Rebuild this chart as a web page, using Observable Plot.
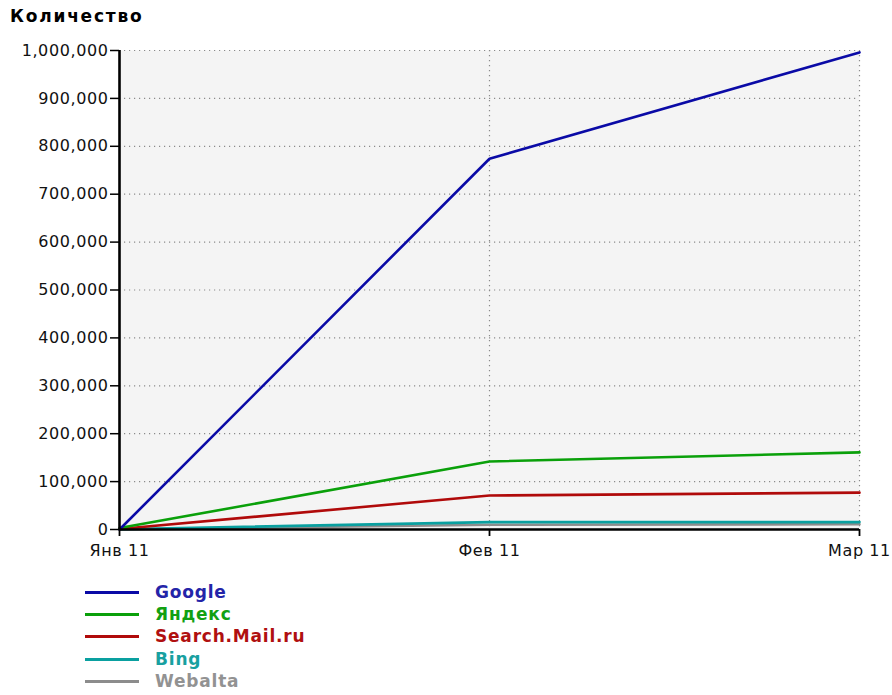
<!DOCTYPE html>
<html>
<head>
<meta charset="utf-8">
<script src="https://cdn.jsdelivr.net/npm/d3@7"></script>
<script src="https://cdn.jsdelivr.net/npm/@observablehq/plot@0.6"></script>
<style>
  body { margin: 0; background: white; font-family: "DejaVu Sans", sans-serif; }
  #wrap { position: relative; width: 892px; height: 695px; }
  #title { position: absolute; left: 10px; top: 6px; font-weight: bold; font-size: 17px; letter-spacing: 1.8px; color: #000; }
  #chart { position: absolute; left: 0; top: 32px; }
  .lg { position: absolute; left: 0; height: 22px; width: 400px; }
  .lg .ln { position: absolute; left: 85px; top: 10px; width: 54px; height: 3px; }
  .lg .tx { position: absolute; left: 155px; top: 0px; font-weight: bold; font-size: 17px; letter-spacing: 0.8px; line-height: 22px; }
</style>
</head>
<body>
<div id="wrap">
  <div id="title">Количество</div>
  <div id="chart"></div>
  <div id="legend"></div>
</div>
<script>
const months = ["Янв 11", "Фев 11", "Мар 11"];
const seriesNames = ["Google", "Яндекс", "Search.Mail.ru", "Bing", "Webalta"];
const seriesColors = ["#0a0aa6", "#0aa00a", "#b00a0a", "#0aa0a0", "#8c8c8c"];
const legendTextColors = ["#2424a8", "#12a012", "#b01010", "#18a0a0", "#929292"];
const google = [0, 774000, 996000];
const yandex = [3000, 142000, 161000];
const mail = [1000, 71000, 77000];
const bing = [500, 15500, 15500];
const webalta = [200, 9800, 11000];
const yTicks = [0, 100000, 200000, 300000, 400000, 500000, 600000, 700000, 800000, 900000, 1000000];

const allValues = [google, yandex, mail, bing, webalta];
const data = [];
// draw Webalta first so Google is on top
for (let s = allValues.length - 1; s >= 0; s--) {
  allValues[s].forEach((v, i) => data.push({series: seriesNames[s], month: i, value: v}));
}

const chart = Plot.plot({
  width: 892,
  height: 540,
  marginLeft: 119,
  marginRight: 33,
  marginTop: 18,
  marginBottom: 43,
  style: { fontFamily: "DejaVu Sans, sans-serif", fontSize: "16px", color: "#000", background: "white" },
  x: { domain: [0, months.length - 1], axis: null, label: null },
  y: { domain: [0, 1000000], axis: null, label: null },
  color: { domain: seriesNames, range: seriesColors },
  marks: [
    Plot.frame({ fill: "#f4f4f4", stroke: null }),
    Plot.gridY(yTicks.slice(1), { stroke: "#8a8a8a", strokeOpacity: 1, strokeWidth: 1.2, strokeDasharray: "1.2,3.8" }),
    Plot.gridX([1, 2], { stroke: "#8a8a8a", strokeOpacity: 1, strokeWidth: 1.2, strokeDasharray: "1.2,3.8" }),
    Plot.line(data, { x: "month", y: "value", z: "series", stroke: "series", strokeWidth: 2.6, curve: "linear" }),
    Plot.axisY(yTicks, { label: null, tickFormat: d3.format(","), tickSize: 9, tickPadding: 2, fontSize: 16, stroke: "#000", strokeWidth: 1.5, fill: "#111" }),
    Plot.axisX([0, 1, 2], { label: null, tickFormat: (d) => months[d], tickSize: 7, tickPadding: 8, fontSize: 16, stroke: "#000", strokeWidth: 1.8, fill: "#111" }),
    Plot.ruleX([0], { stroke: "#000", strokeWidth: 2.6 }),
    Plot.ruleY([0], { stroke: "#000", strokeWidth: 2.6 })
  ]
});
chart.style.letterSpacing = "0.6px";
document.getElementById("chart").appendChild(chart);

const legend = document.getElementById("legend");
const rowTops = [581, 603, 625, 648, 670];
seriesNames.forEach((name, i) => {
  const row = document.createElement("div");
  row.className = "lg";
  row.style.top = rowTops[i] + "px";
  const ln = document.createElement("div");
  ln.className = "ln";
  ln.style.background = seriesColors[i];
  const tx = document.createElement("div");
  tx.className = "tx";
  tx.style.color = legendTextColors[i];
  tx.textContent = name;
  row.appendChild(ln);
  row.appendChild(tx);
  legend.appendChild(row);
});
</script>
</body>
</html>
